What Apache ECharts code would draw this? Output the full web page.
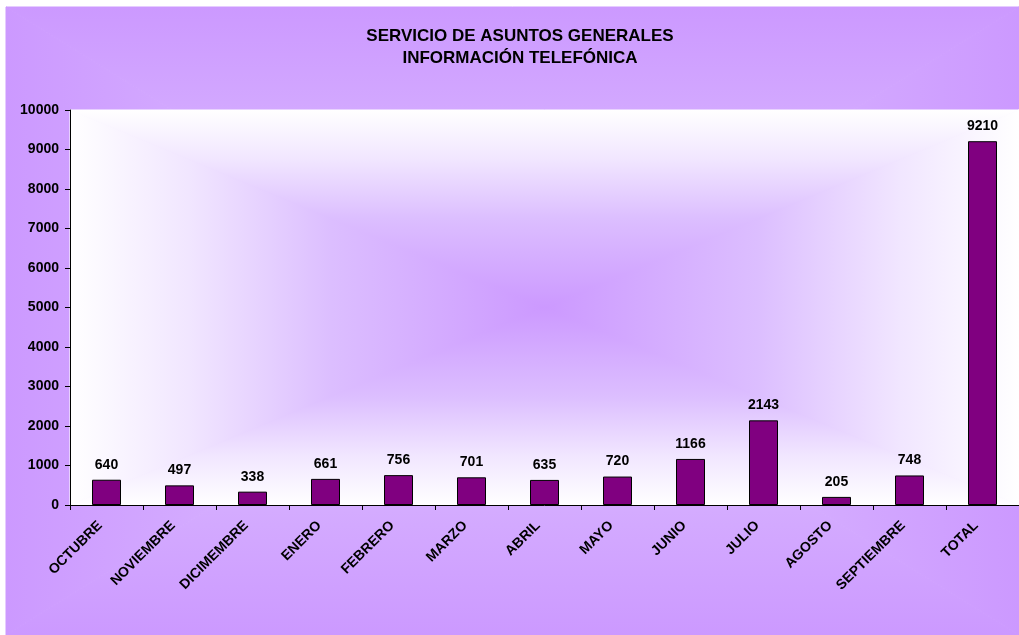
<!DOCTYPE html>
<html>
<head>
<meta charset="utf-8">
<script src="https://cdn.jsdelivr.net/npm/echarts@6/dist/echarts.min.js"></script>
<style>
  html, body { margin: 0; padding: 0; background: #fff; }
  #chart { width: 1019px; height: 635px; }
</style>
</head>
<body>
<div id="chart"></div>
<script>
const meses = ['OCTUBRE', 'NOVIEMBRE', 'DICIMEMBRE', 'ENERO', 'FEBRERO', 'MARZO', 'ABRIL', 'MAYO', 'JUNIO', 'JULIO', 'AGOSTO', 'SEPTIEMBRE', 'TOTAL']
const llamadas = [640, 497, 338, 661, 756, 701, 635, 720, 1166, 2143, 205, 748, 9210]
const yMin = 0
const yMax = 10000
const yStep = 1000

const font = '"Liberation Sans", Arial, sans-serif'

// marco exterior y zona de trazado (px)
const marco = { x: 6, y: 7, w: 1013, h: 628 }
const zona = { x: 70, y: 110, w: 949, h: 395 }

// degradado rectangular desde el centro: 4 triángulos con degradado lineal
function rectGrad(r, borde, centro, z) {
    const cx = r.x + r.w / 2, cy = r.y + r.h / 2
    const x0 = r.x, y0 = r.y, x1 = r.x + r.w, y1 = r.y + r.h
    const lin = (ax, ay, bx, by) => ({
        type: 'linear', x: ax, y: ay, x2: bx, y2: by, global: true,
        colorStops: borde.map((c, i) => ({ offset: centro[i], color: c }))
    })
    return [
        { pts: [[x0, y0], [x1, y0], [cx, cy]], g: lin(0, y0, 0, cy) },
        { pts: [[x0, y1], [x1, y1], [cx, cy]], g: lin(0, y1, 0, cy) },
        { pts: [[x0, y0], [x0, y1], [cx, cy]], g: lin(x0, 0, cx, 0) },
        { pts: [[x1, y0], [x1, y1], [cx, cy]], g: lin(x1, 0, cx, 0) }
    ].map(t => ({
        type: 'polygon', silent: true, z: z,
        shape: { points: t.pts },
        style: { fill: t.g, stroke: t.g, lineWidth: 1 }
    }))
}

const chart = echarts.init(document.getElementById('chart'))
chart.setOption({
    animation: false,
    textStyle: { fontFamily: font },
    graphic: [
        ...rectGrad(marco, ['#CC99FF', '#D6B0FF', '#E2C9FF'], [0, 0.5, 1], -20),
        ...rectGrad(zona, ['#FFFFFF', '#F1E6FF', '#DCBEFF', '#CC99FF'], [0, 0.25, 0.55, 1], -10)
    ],
    title: {
        text: 'SERVICIO DE ASUNTOS GENERALES\nINFORMACIÓN TELEFÓNICA',
        left: 515,
        textAlign: 'center',
        top: 20,
        textStyle: { fontFamily: font, fontSize: 17, fontWeight: 'bold', color: '#000', lineHeight: 22 }
    },
    grid: {
        left: zona.x,
        top: zona.y,
        width: zona.w,
        height: zona.h,
        containLabel: false
    },
    xAxis: {
        type: 'category',
        data: meses,
        axisLine: { lineStyle: { color: '#000', width: 1 } },
        axisTick: { show: true, length: 5, lineStyle: { color: '#000' } },
        axisLabel: {
            rotate: 45,
            margin: 12,
            padding: [0, 9, 0, 0],
            interval: 0,
            color: '#000',
            fontFamily: font,
            fontSize: 14,
            fontWeight: 'bold'
        }
    },
    yAxis: {
        type: 'value',
        min: yMin,
        max: yMax,
        interval: yStep,
        axisLine: { show: true, lineStyle: { color: '#000', width: 1 } },
        axisTick: { show: true, length: 5, lineStyle: { color: '#000' } },
        splitLine: { show: false },
        axisLabel: {
            margin: 11,
            formatter: v => String(v),
            color: '#000',
            fontFamily: font,
            fontSize: 14,
            fontWeight: 'bold'
        }
    },
    series: [{
        type: 'bar',
        data: llamadas,
        barWidth: 29,
        itemStyle: { color: '#800080', borderColor: '#000', borderWidth: 1 },
        label: {
            show: true,
            position: 'top',
            distance: 8,
            color: '#000',
            fontFamily: font,
            fontSize: 14,
            fontWeight: 'bold'
        }
    }]
})
</script>
</body>
</html>
